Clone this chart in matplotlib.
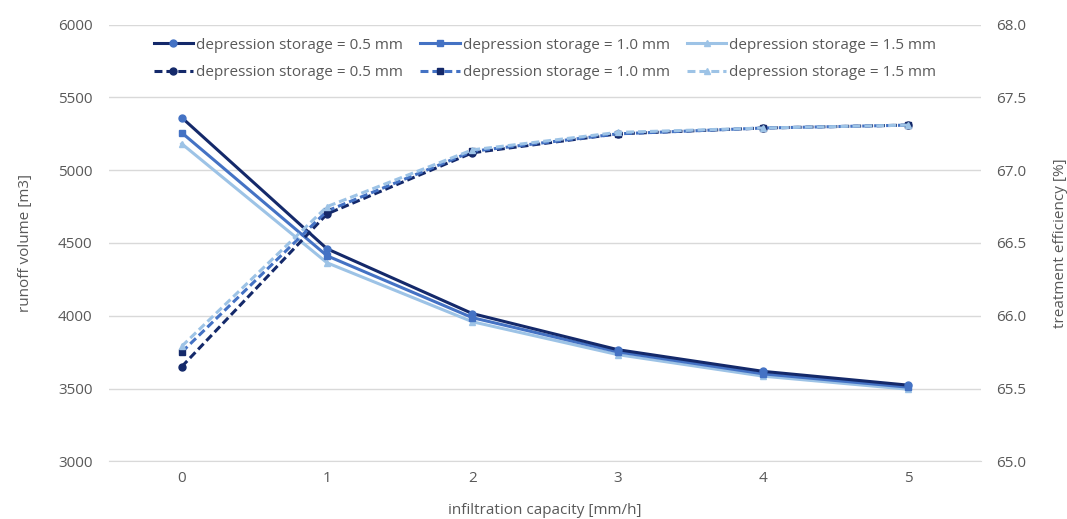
from matplotlib import pyplot as plt
import numpy as np

plt.rcParams["font.family"] = ["Open Sans", "DejaVu Sans"]
plt.rcParams["font.size"] = 11

# infiltration capacity [mm/h]
infiltration = [0, 1, 2, 3, 4, 5]
storage_labels = [
    "depression storage = 0.5 mm",
    "depression storage = 1.0 mm",
    "depression storage = 1.5 mm",
]

# runoff volume [m3] per depression storage
runoff_05 = [5362, 4460, 4015, 3767, 3618, 3523]
runoff_10 = [5258, 4412, 3987, 3752, 3601, 3509]
runoff_15 = [5182, 4364, 3959, 3733, 3585, 3495]

# treatment efficiency [%] per depression storage
efficiency_05 = [65.65, 66.70, 67.12, 67.25, 67.29, 67.31]
efficiency_10 = [65.75, 66.72, 67.13, 67.25, 67.29, 67.31]
efficiency_15 = [65.79, 66.75, 67.14, 67.26, 67.29, 67.31]

dark = "#14296a"
mid = "#4472c4"
light = "#9dc3e6"
text_grey = "#595959"
grid_grey = "#d9d9d9"
fs = 11

fig = plt.figure(figsize=(10.67, 5.19), dpi=100)
ax = fig.add_axes([0.1022, 0.1112, 0.8172, 0.8412])
ax2 = ax.twinx()

x = np.array(infiltration)
lw = 2.2
ms = 5

solid = []
solid.append(ax.plot(x, runoff_05, color=dark, lw=lw, marker="o", ms=ms,
                     mfc=mid, mec=mid, zorder=5, label=storage_labels[0])[0])
solid.append(ax.plot(x, runoff_10, color=mid, lw=lw, marker="s", ms=ms - 0.5,
                     mfc=mid, mec=mid, zorder=4, label=storage_labels[1])[0])
solid.append(ax.plot(x, runoff_15, color=light, lw=lw, marker="^", ms=ms,
                     mfc=light, mec=light, zorder=3, label=storage_labels[2])[0])

dashed = []
for vals, col, mk, mcol, lab in [
    (efficiency_05, dark, "o", dark, storage_labels[0]),
    (efficiency_10, mid, "s", dark, storage_labels[1]),
    (efficiency_15, light, "^", light, storage_labels[2]),
]:
    (ln,) = ax2.plot(x, vals, color=col, lw=lw, marker=mk, ms=ms,
                     mfc=mcol, mec=mcol, dashes=(2.6, 1.3), label=lab)
    dashed.append(ln)

ax.set_xlim(-0.5, 5.5)
ax.set_ylim(3000, 6000)
ax.set_yticks(np.arange(3000, 6001, 500))
ax2.set_ylim(65.0, 68.0)
ax2.set_yticks(np.arange(65.0, 68.01, 0.5))
ax2.set_yticklabels([f"{v:.1f}" for v in np.arange(65.0, 68.01, 0.5)])
ax.set_xticks(infiltration)

ax.grid(axis="y", color=grid_grey, lw=1)
ax.set_axisbelow(True)
for a in (ax, ax2):
    for s in a.spines.values():
        s.set_visible(False)
ax.spines["bottom"].set_visible(True)
ax.spines["bottom"].set_color(grid_grey)

ax.tick_params(axis="y", length=0, pad=12, colors=text_grey, labelsize=fs)
ax.tick_params(axis="x", length=0, pad=7, colors=text_grey, labelsize=fs)
ax2.tick_params(axis="y", length=0, pad=11, colors=text_grey, labelsize=fs)

ax.set_ylabel("runoff volume [m3]", color=text_grey, fontsize=fs, labelpad=18)
ax2.set_ylabel("treatment efficiency [%]", color=text_grey, fontsize=fs, labelpad=19)
ax.set_xlabel("infiltration capacity [mm/h]", color=text_grey, fontsize=fs, labelpad=12)

handles = [solid[0], dashed[0], solid[1], dashed[1], solid[2], dashed[2]]
labels = [h.get_label() for h in handles]
leg = ax2.legend(handles, labels, ncol=3, loc="upper center",
                 bbox_to_anchor=(0.5, 1.0), frameon=False, fontsize=fs,
                 handlelength=2.6, handletextpad=0.2, columnspacing=1.1,
                 labelspacing=0.8, borderaxespad=0.45)
for t in leg.get_texts():
    t.set_color(text_grey)

fig.savefig("out.png", dpi=100, facecolor="white")
